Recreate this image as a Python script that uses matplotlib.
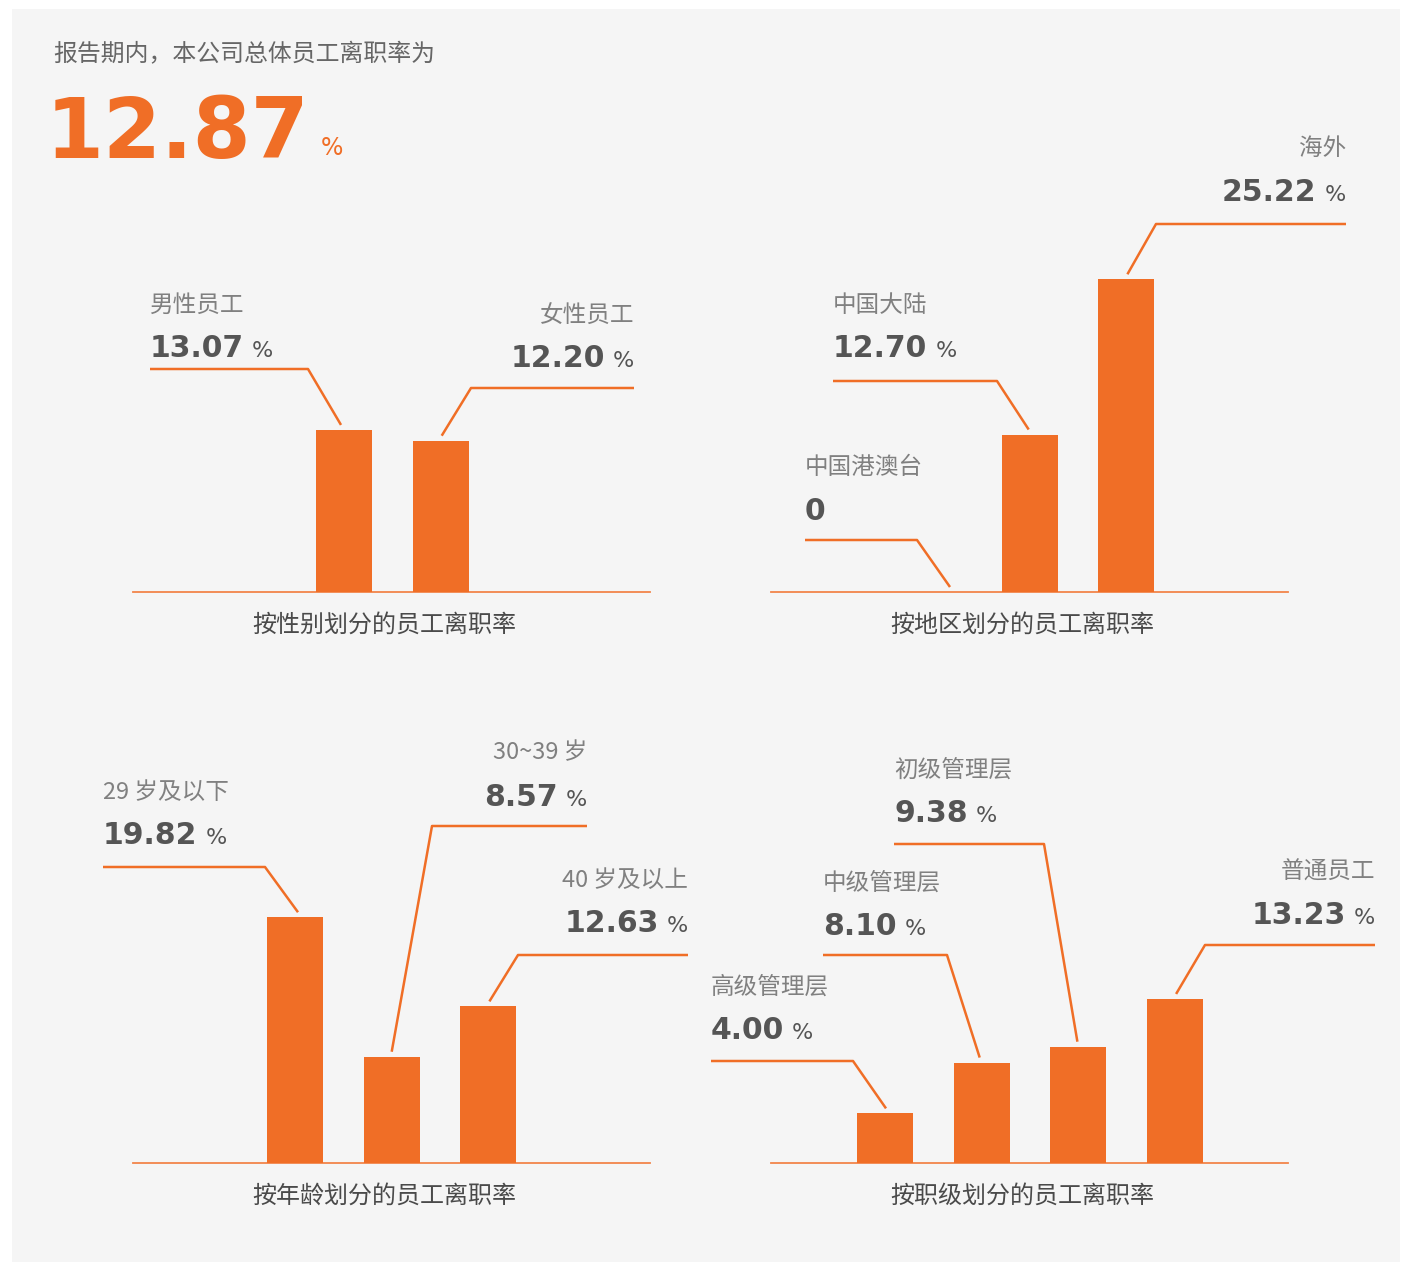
import matplotlib
matplotlib.use('Agg')
import matplotlib.pyplot as plt
from matplotlib.patches import Rectangle
import numpy as np

plt.rcParams['font.family'] = ['Noto Sans CJK SC', 'DejaVu Sans']

# data
overall_rate = 12.87
gender_cats = ['男性员工', '女性员工']
gender_vals = [13.07, 12.20]
region_cats = ['中国港澳台', '中国大陆', '海外']
region_vals = [0, 12.70, 25.22]
age_cats = ['29 岁及以下', '30~39 岁', '40 岁及以上']
age_vals = [19.82, 8.57, 12.63]
level_cats = ['高级管理层', '中级管理层', '初级管理层', '普通员工']
level_vals = [4.00, 8.10, 9.38, 13.23]

W, H = 1401, 1264
ORANGE = '#f06e26'
BASE_C = '#f2854a'
DARK = '#555555'
LIGHT = '#808080'

SCALE = 12.4     # px per percent
SPACING = 96.7   # px between bar centres
BAR_W = 56
PANEL_W = 517
PANEL_H = 440

fig = plt.figure(figsize=(W / 100, H / 100), dpi=100)
fig.patch.set_facecolor('white')
fig.add_artist(Rectangle((12 / W, 1 - 1262 / H), 1388 / W, 1253 / H,
                         transform=fig.transFigure, facecolor='#f5f5f5',
                         edgecolor='none', zorder=-10))
renderer = fig.canvas.get_renderer()


def fxy(x, y):
    return x / W, 1 - y / H


def value_label(x, y, v, align):
    # y is the baseline of the digits, in pixels from the top
    txt = '0' if v == 0 else f'{v:.2f}'
    kw = dict(fontsize=21.5, fontweight='bold', color=DARK,
              family='DejaVu Sans', va='baseline')
    pkw = dict(fontsize=16, color=DARK, family='DejaVu Sans', va='baseline')
    if v == 0:
        fig.text(*fxy(x, y), txt, ha=align, **kw)
        return
    if align == 'left':
        t = fig.text(*fxy(x, y), txt, ha='left', **kw)
        bb = t.get_window_extent(renderer=renderer)
        fig.text(*fxy(bb.x1 + 8, y), '%', ha='left', **pkw)
    else:
        p = fig.text(*fxy(x, y), '%', ha='right', **pkw)
        bb = p.get_window_extent(renderer=renderer)
        fig.text(*fxy(bb.x0 - 8, y), txt, ha='right', **kw)


def panel(x0, base, c0, cats, vals, layout, title, title_y):
    ax = fig.add_axes([x0 / W, 1 - base / H, PANEL_W / W, PANEL_H / H])
    ax.set_xlim((x0 - c0) / SPACING, (x0 + PANEL_W - c0) / SPACING)
    ax.set_ylim(0, PANEL_H / SCALE)
    ax.axis('off')
    ax.patch.set_alpha(0)
    xs = np.arange(len(vals))
    ax.bar(xs, vals, width=BAR_W / SPACING, color=ORANGE, zorder=2)
    ax.axhline(0, color=BASE_C, lw=1.3, zorder=1, clip_on=False)

    for i, (cat, v, lay) in enumerate(zip(cats, vals, layout)):
        tx, cat_y, val_y, line_y, elbow_x, align, dx = lay
        lx = [(tx - c0) / SPACING, (elbow_x - c0) / SPACING, i + dx / SPACING]
        ly = [(base - line_y) / SCALE, (base - line_y) / SCALE, v + 5 / SCALE]
        ax.plot(lx, ly, color=ORANGE, lw=1.8, clip_on=False,
                solid_capstyle='butt', zorder=3)
        fig.text(*fxy(tx, cat_y), cat, ha=align, va='center', fontsize=17,
                 color=LIGHT, fontweight='light')
        value_label(tx, val_y + 11, v, align)

    fig.text(*fxy(x0 + PANEL_W / 2 - 7, title_y + 1.5), title, ha='center',
             va='center', fontsize=17.3, color='#4a4a4a')


# text x, category y, value centre y, leader y, elbow x, alignment, end dx
gender_layout = [(150, 305, 346, 369, 308, 'left', -3),
                 (634, 315, 356, 388, 471, 'right', 1)]
region_layout = [(805, 468, 509, 540, 917, 'left', 17),
                 (833, 305, 346, 381, 997, 'left', -1),
                 (1346, 148, 190, 224, 1156, 'right', 1)]
age_layout = [(103, 792, 833, 867, 265, 'left', 3),
              (587, 753, 795, 826, 432, 'right', 0),
              (688, 880, 921, 955, 518, 'right', 1)]
level_layout = [(711, 987, 1028, 1061, 853, 'left', 1),
                (823, 883, 924, 955, 947, 'left', -2),
                (894, 770, 811, 844, 1044, 'left', -1),
                (1375, 872, 913, 945, 1205, 'right', 1)]

panel(133, 592, 344, gender_cats, gender_vals, gender_layout,
      '按性别划分的员工离职率', 623)
panel(771, 592, 933, region_cats, region_vals, region_layout,
      '按地区划分的员工离职率', 623)
panel(133, 1163, 295, age_cats, age_vals, age_layout,
      '按年龄划分的员工离职率', 1194)
panel(771, 1163, 885, level_cats, level_vals, level_layout,
      '按职级划分的员工离职率', 1194)

# header
fig.text(*fxy(53, 55), '报告期内，本公司总体员工离职率为', ha='left', va='center',
         fontsize=17.2, color='#666666')
fig.text(*fxy(46, 158), f'{overall_rate:.2f}', ha='left', va='baseline',
         fontsize=60, fontweight='bold', color=ORANGE, family='DejaVu Sans')
fig.text(*fxy(321, 155), '%', ha='left', va='baseline', fontsize=17,
         color=ORANGE, family='DejaVu Sans')

fig.savefig('out.png', dpi=100, facecolor=fig.get_facecolor())
